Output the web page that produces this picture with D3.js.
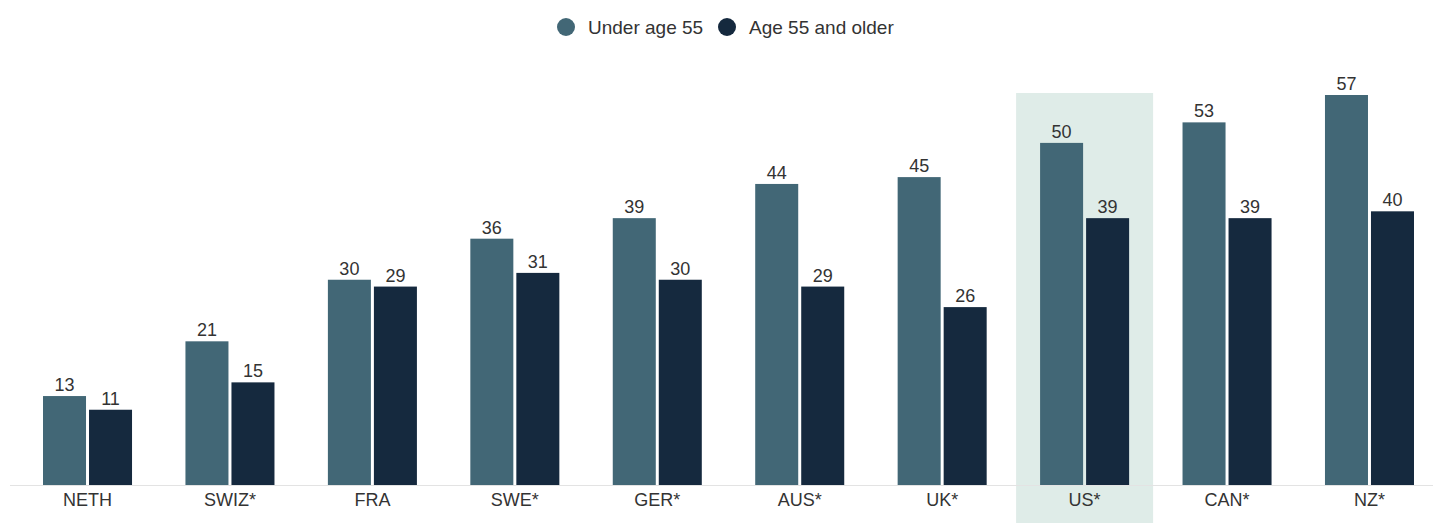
<!DOCTYPE html>
<html>
<head>
<meta charset="utf-8">
<script src="https://cdn.jsdelivr.net/npm/d3@7"></script>
<style>
  html, body { margin: 0; padding: 0; background: #fff; }
  svg { display: block; font-family: "Liberation Sans", Arial, sans-serif; }
</style>
</head>
<body>
<svg id="chart" width="1433" height="523"></svg>
<script>
// Share of respondents by country and age group (%)
const countries = ["NETH", "SWIZ*", "FRA", "SWE*", "GER*", "AUS*", "UK*", "US*", "CAN*", "NZ*"];
const seriesNames = ["Under age 55", "Age 55 and older"];
const underAge55 = [13, 21, 30, 36, 39, 44, 45, 50, 53, 57];
const age55Older = [11, 15, 29, 31, 30, 29, 26, 39, 39, 40];
const highlighted = "US*";

const colors = ["#426776", "#15293e"];

const svg = d3.select("#chart");
const width = 1433, height = 523;
const baseY = 485;

const x0 = d3.scaleBand()
  .domain(countries)
  .range([16.3, 1440.7])
  .paddingInner(0.375)
  .paddingOuter(0.1875);

const x1 = d3.scaleBand()
  .domain(seriesNames)
  .range([0, x0.bandwidth()])
  .paddingInner(3 / 46);

const y = d3.scaleLinear()
  .domain([0, 57])
  .range([baseY, 95]);

const rows = countries.map((c, i) => ({
  country: c,
  values: [
    { key: seriesNames[0], value: underAge55[i], color: colors[0] },
    { key: seriesNames[1], value: age55Older[i], color: colors[1] }
  ]
}));

// Highlight band behind the selected country
const hx = x0(highlighted) + x0.bandwidth() / 2;
svg.append("rect")
  .attr("x", hx - 68.5)
  .attr("y", 93)
  .attr("width", 137)
  .attr("height", height - 93)
  .attr("fill", "#dfece8");

// Baseline
svg.append("line")
  .attr("x1", 10).attr("x2", width)
  .attr("y1", baseY + 0.5).attr("y2", baseY + 0.5)
  .attr("stroke", "#e3e3e3")
  .attr("stroke-width", 1);

const groups = svg.append("g")
  .selectAll("g")
  .data(rows)
  .join("g")
  .attr("transform", d => `translate(${x0(d.country)},0)`);

groups.selectAll("rect")
  .data(d => d.values)
  .join("rect")
  .attr("x", d => x1(d.key))
  .attr("y", d => y(d.value))
  .attr("width", x1.bandwidth())
  .attr("height", d => y(0) - y(d.value))
  .attr("fill", d => d.color);

groups.selectAll("text.val")
  .data(d => d.values)
  .join("text")
  .attr("class", "val")
  .attr("x", d => x1(d.key) + x1.bandwidth() / 2)
  .attr("y", d => y(d.value) - 5)
  .attr("text-anchor", "middle")
  .attr("font-size", 18)
  .attr("fill", "#333")
  .text(d => d.value);

// Category axis
const xAxis = d3.axisBottom(x0).tickSize(0).tickPadding(0);
const ax = svg.append("g")
  .attr("transform", `translate(0,${baseY})`)
  .call(xAxis);
ax.select(".domain").remove();
ax.selectAll("text")
  .attr("font-size", 18)
  .attr("font-family", "\"Liberation Sans\", Arial, sans-serif")
  .attr("fill", "#333")
  .attr("y", 21)
  .attr("dy", 0);

// Legend
const legendItems = [
  { label: seriesNames[0], color: colors[0], cx: 566 },
  { label: seriesNames[1], color: colors[1], cx: 727 }
];
const legend = svg.append("g");
legendItems.forEach(it => {
  legend.append("circle")
    .attr("cx", it.cx).attr("cy", 27).attr("r", 9)
    .attr("fill", it.color);
  legend.append("text")
    .attr("x", it.cx + 22).attr("y", 27)
    .attr("dy", "0.35em")
    .attr("font-size", 19)
    .attr("fill", "#333")
    .text(it.label);
});
</script>
</body>
</html>
